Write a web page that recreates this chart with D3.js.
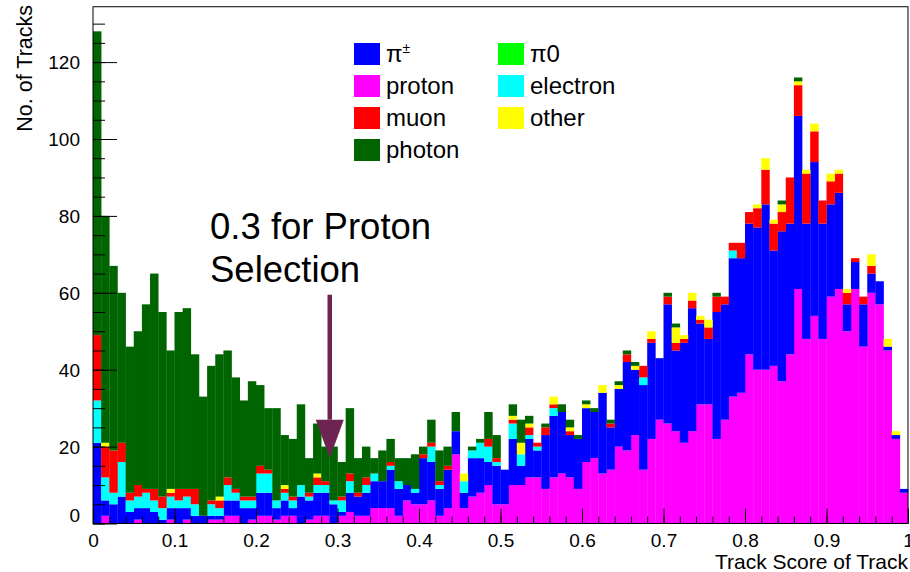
<!DOCTYPE html>
<html>
<head>
<meta charset="utf-8">
<script src="https://cdn.jsdelivr.net/npm/d3@7"></script>
<style>
  body { margin: 0; background: #fff; }
  text { font-family: "Liberation Sans", Arial, sans-serif; }
</style>
</head>
<body>
<div id="chart"></div>
<script>
// bin contents, 100 bins of width 0.01 from 0 to 1 (stacked bottom to top)
const proton = [
    0, 2, 0, 0, 0, 1, 0, 0, 0, 1,
    0, 1, 0, 0, 1, 1, 2, 2, 0, 1,
    2, 2, 1, 2, 2, 0, 1, 2, 2, 0,
    2, 3, 2, 2, 4, 4, 4, 2, 6, 5,
    5, 6, 2, 4, 18, 4, 7, 8, 10, 5,
    5, 10, 10, 12, 12, 9, 12, 13, 12, 9,
    16, 17, 13, 14, 20, 19, 23, 14, 22, 27,
    26, 24, 21, 24, 31, 31, 22, 27, 33, 34,
    44, 40, 40, 41, 37, 44, 61, 48, 54, 48,
    59, 61, 50, 61, 46, 60, 57, 45, 22, 8]
const piCharged = [
    21, 4, 5, 7, 3, 3, 4, 3, 1, 3,
    4, 3, 2, 2, 1, 1, 4, 4, 4, 3,
    6, 6, 3, 4, 2, 7, 5, 6, 6, 5,
    1, 5, 5, 6, 7, 7, 10, 7, 4, 3,
    12, 10, 7, 10, 6, 4, 10, 9, 6, 10,
    9, 12, 5, 10, 7, 14, 16, 16, 11, 13,
    14, 12, 21, 11, 15, 23, 17, 22, 25, 16,
    31, 21, 26, 32, 21, 17, 33, 30, 36, 35,
    34, 37, 43, 30, 39, 34, 45, 30, 40, 30,
    24, 25, 7, 7, 11, 5, 6, 1, 1, 1]
const electron = [
    11, 6, 3, 9, 3, 3, 4, 3, 3, 3,
    2, 3, 3, 0, 3, 2, 4, 2, 2, 2,
    5, 5, 2, 2, 2, 3, 1, 2, 2, 1,
    3, 3, 0, 2, 2, 0, 1, 2, 0, 1,
    0, 4, 1, 0, 0, 3, 2, 4, 4, 1,
    0, 4, 3, 1, 1, 0, 2, 0, 0, 0,
    0, 0, 0, 0, 0, 0, 0, 2, 0, 0,
    0, 0, 0, 0, 0, 0, 0, 0, 2, 0,
    0, 0, 0, 0, 0, 0, 0, 0, 0, 0,
    0, 0, 0, 0, 0, 0, 0, 0, 0, 0]
const muon = [
    17, 8, 11, 5, 2, 3, 1, 3, 3, 1,
    3, 2, 4, 0, 1, 2, 2, 1, 1, 1,
    2, 1, 0, 1, 1, 0, 1, 2, 1, 0,
    1, 2, 1, 2, 0, 0, 1, 0, 0, 0,
    1, 1, 1, 1, 0, 0, 0, 0, 2, 1,
    0, 1, 0, 2, 1, 2, 1, 0, 1, 0,
    0, 0, 0, 1, 0, 2, 0, 3, 1, 0,
    2, 2, 1, 2, 1, 3, 4, 2, 2, 4,
    3, 5, 9, 7, 5, 12, 8, 13, 8, 6,
    6, 5, 3, 1, 2, 2, 0, 0, 0, 0]
const other = [
    0, 1, 0, 0, 0, 0, 0, 0, 0, 1,
    0, 0, 0, 0, 0, 1, 0, 0, 0, 0,
    0, 0, 0, 1, 0, 0, 0, 1, 0, 0,
    0, 0, 0, 0, 0, 0, 0, 0, 0, 0,
    0, 0, 0, 0, 0, 2, 0, 0, 0, 0,
    0, 1, 3, 1, 0, 0, 2, 0, 1, 0,
    1, 0, 2, 0, 1, 0, 1, 0, 2, 0,
    0, 4, 1, 2, 1, 2, 0, 0, 0, 0,
    0, 1, 3, 1, 2, 0, 1, 1, 2, 0,
    2, 1, 1, 0, 0, 3, 0, 2, 1, 0]
const pi0 = [
    0, 0, 0, 0, 0, 0, 0, 0, 0, 0,
    0, 0, 0, 0, 0, 0, 0, 0, 0, 0,
    0, 0, 0, 0, 0, 0, 0, 0, 0, 0,
    0, 0, 0, 0, 0, 0, 0, 0, 0, 0,
    0, 0, 0, 0, 0, 0, 0, 0, 0, 0,
    0, 0, 0, 0, 0, 0, 0, 0, 0, 0,
    0, 0, 0, 0, 0, 0, 0, 0, 0, 0,
    0, 0, 0, 0, 0, 0, 0, 0, 0, 0,
    0, 0, 0, 0, 0, 0, 0, 0, 0, 0,
    0, 0, 0, 0, 0, 0, 0, 0, 0, 0]
const photon = [
    79, 59, 48, 39, 38, 40, 48, 56, 48, 36,
    46, 47, 35, 31, 35, 37, 33, 29, 25, 30,
    21, 16, 24, 13, 15, 21, 9, 13, 9, 14,
    9, 17, 9, 8, 4, 8, 6, 6, 7, 9,
    2, 6, 8, 5, 5, 0, 1, 1, 7, 6,
    0, 3, 6, 2, 0, 1, 0, 2, 2, 1,
    1, 1, 0, 1, 1, 1, 1, 0, 0, 0,
    1, 1, 0, 0, 0, 0, 1, 0, 0, 0,
    0, 0, 0, 0, 1, 0, 1, 0, 0, 0,
    0, 0, 0, 0, 0, 0, 0, 0, 0, 0]

const xTicks = [0, 0.1, 0.2, 0.3, 0.4, 0.5, 0.6, 0.7, 0.8, 0.9, 1]
const yTicks = [0, 20, 40, 60, 80, 100, 120]

const binWidth = 0.01
const yMax = 134.4

const legendCol1 = [["piCharged", "π"], ["proton", "proton"], ["muon", "muon"], ["photon", "photon"]]
const legendCol2 = [["pi0", "π0"], ["electron", "electron"], ["other", "other"]]

const color = {
    proton: "#ff00ff",
    piCharged: "#0000ff",
    electron: "#00ffff",
    muon: "#ff0000",
    other: "#ffff00",
    pi0: "#00ff00",
    photon: "#006400"
}

const width = 910,
    height = 572;

const svg = d3.select("#chart")
    .append("svg")
    .attr("width", width)
    .attr("height", height)

const x = d3.scaleLinear().domain([0, 1]).range([93, 908])
const y = d3.scaleLinear().domain([0, yMax]).range([523.5, 523.5 - yMax * 3.845])

const keys = ["proton", "piCharged", "electron", "muon", "other", "pi0", "photon"]
const source = { proton, piCharged, electron, muon, other, pi0, photon }

const rows = proton.map(function(d, i) {
    const r = { bin: i }
    keys.forEach(function(k) { r[k] = source[k][i] })
    return r
})

const series = d3.stack().keys(keys)(rows)

svg.selectAll(null)
    .data(series)
    .join("g")
    .attr("fill", function(d) { return color[d.key] })
    .selectAll("rect")
    .data(function(d) { return d })
    .join("rect")
    .attr("x", function(d) { return x(d.data.bin * binWidth) })
    .attr("width", function(d) { return x((d.data.bin + 1) * binWidth) - x(d.data.bin * binWidth) + 0.3 })
    .attr("y", function(d) { return y(d[1]) })
    .attr("height", function(d) { return y(d[0]) - y(d[1]) })

// frame
svg.append("rect")
    .attr("x", x(0))
    .attr("y", y(yMax))
    .attr("width", x(1) - x(0))
    .attr("height", y(0) - y(yMax))
    .attr("fill", "none")
    .attr("stroke", "#000")
    .attr("stroke-width", 1)

// y axis: minor then major ticks, drawn inside the frame
svg.append("g")
    .attr("transform", `translate(${x(0)},0)`)
    .call(d3.axisLeft(y).tickValues(d3.range(0, 131, 5)).tickSizeInner(-12).tickSizeOuter(0).tickFormat(""))
    .call(g => g.select(".domain").remove())

const yAxis = svg.append("g")
    .attr("transform", `translate(${x(0)},0)`)
    .call(d3.axisLeft(y).tickValues(yTicks).tickSizeInner(-24).tickSizeOuter(0).tickPadding(13))
    .call(g => g.select(".domain").remove())

yAxis.selectAll("text")
    .attr("font-size", 19)
    .attr("fill", "#000")
    .attr("font-family", "Liberation Sans, Arial, sans-serif")
    .attr("dy", function(d) { return d === 0 ? "-0.1em" : "0.36em" })

// x axis
svg.append("g")
    .attr("transform", `translate(0,${y(0)})`)
    .call(d3.axisBottom(x).tickValues(d3.range(0, 50).map(function(i) { return i * 0.02 })).tickSizeInner(-7).tickSizeOuter(0).tickFormat(""))
    .call(g => g.select(".domain").remove())

const xAxis = svg.append("g")
    .attr("transform", `translate(0,${y(0)})`)
    .call(d3.axisBottom(x).tickValues(xTicks).tickSizeInner(-15).tickSizeOuter(0).tickPadding(10).tickFormat(d3.format("~g")))
    .call(g => g.select(".domain").remove())

xAxis.selectAll("text")
    .attr("font-size", 19)
    .attr("fill", "#000")
    .attr("font-family", "Liberation Sans, Arial, sans-serif")

svg.selectAll(".tick line").attr("stroke", "#000")

// axis titles
svg.append("text")
    .attr("x", 908)
    .attr("y", 569)
    .attr("text-anchor", "end")
    .attr("font-size", 21)
    .text("Track Score of Track")

svg.append("text")
    .attr("transform", "translate(32,5) rotate(-90)")
    .attr("text-anchor", "end")
    .attr("font-size", 21.5)
    .text("No. of Tracks")

// legend
const size = 26
function drawLegend(items, left) {
    const g = svg.append("g")
    g.selectAll(null)
        .data(items)
        .join("rect")
        .attr("x", left)
        .attr("y", function(d, i) { return 43 + i * 32 })
        .attr("width", size)
        .attr("height", 22)
        .attr("fill", function(d) { return color[d[0]] })
    const t = g.selectAll(null)
        .data(items)
        .join("text")
        .attr("x", left + size + 6)
        .attr("y", function(d, i) { return 54 + i * 32 })
        .attr("dy", "0.35em")
        .attr("font-size", 24)
        .text(function(d) { return d[1] })
    t.filter(function(d) { return d[0] === "piCharged" })
        .append("tspan")
        .attr("font-size", 14)
        .attr("dy", "-0.7em")
        .text("±")
}
drawLegend(legendCol1, 354)
drawLegend(legendCol2, 498)

// annotation
const ann = svg.append("text")
    .attr("x", 210)
    .attr("font-size", 36.5)
ann.append("tspan").attr("x", 210).attr("y", 239).text("0.3 for Proton")
ann.append("tspan").attr("x", 210).attr("y", 282).text("Selection")

const arrowColor = "#6e2450"
const ax = x(0.2905)
svg.append("line")
    .attr("x1", ax)
    .attr("x2", ax)
    .attr("y1", y(59.5))
    .attr("y2", y(27))
    .attr("stroke", arrowColor)
    .attr("stroke-width", 4.5)

svg.append("path")
    .attr("d", `M${ax - 14},${y(27)} L${ax + 14},${y(27)} L${ax},${y(17)} Z`)
    .attr("fill", arrowColor)
</script>
</body>
</html>
